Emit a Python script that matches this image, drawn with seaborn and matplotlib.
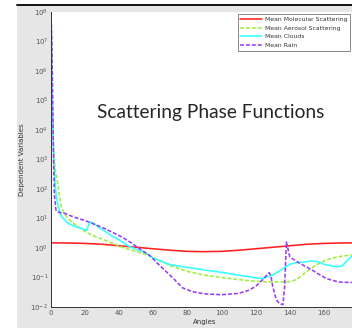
import numpy as np
import pandas as pd
import matplotlib
matplotlib.use('Agg')
import matplotlib.pyplot as plt
from matplotlib.patches import Rectangle
from matplotlib.lines import Line2D
import seaborn as sns

# --- data (angles in degrees, values log-scaled) ---
mol_angles = [0, 10, 20, 30, 40, 50, 60, 70, 80, 90, 100, 110, 120, 130, 140, 150, 160, 170, 180]
mol_values = [1.50, 1.48, 1.43, 1.34, 1.19, 1.06, 0.94, 0.84, 0.77, 0.75,
              0.77, 0.84, 0.94, 1.06, 1.19, 1.34, 1.43, 1.48, 1.50]

aer_angles = [0, 0.5, 1, 1.5, 2, 2.5, 3, 4, 5, 6, 8, 10, 13, 16, 20, 25, 30, 36, 42, 48,
              55, 62, 70, 80, 90, 100, 110, 116, 120, 126, 132, 140, 144, 150, 155, 160,
              165, 170, 175, 180]
aer_values = [2e8, 3e5, 1e4, 2.5e3, 1e3, 440, 300, 150, 60, 25, 14, 10, 7, 5.3, 3.6, 2.6,
              2.0, 1.45, 1.05, 0.82, 0.62, 0.42, 0.25, 0.16, 0.12, 0.1, 0.085, 0.078, 0.075,
              0.072, 0.071, 0.072, 0.085, 0.16, 0.26, 0.36, 0.46, 0.52, 0.57, 0.6]

cld_angles = [0, 0.5, 1, 1.5, 2, 2.5, 3, 4, 5, 6, 8, 10, 12, 15, 18, 20, 21, 22, 23, 25,
              28, 32, 36, 40, 45, 50, 55, 60, 65, 70, 80, 90, 100, 110, 116, 120, 124, 128,
              132, 136, 140, 144, 148, 152, 156, 160, 164, 168, 171, 174, 177, 180]
cld_values = [1e8, 1e6, 2e4, 2e3, 400, 150, 60, 30, 18, 12, 9, 7, 6, 5.2, 4.6, 4.1, 4.0,
              6.0, 7.7, 6.8, 5.0, 3.6, 2.5, 1.9, 1.2, 0.9, 0.72, 0.45, 0.35, 0.27, 0.22,
              0.18, 0.15, 0.12, 0.107, 0.097, 0.092, 0.11, 0.14, 0.2, 0.28, 0.32, 0.33,
              0.36, 0.35, 0.28, 0.25, 0.23, 0.25, 0.4, 0.55, 0.6]

rain_angles = [0, 0.5, 1, 1.5, 2, 3, 5, 8, 12, 16, 20, 25, 30, 36, 42, 47, 53, 58, 62, 67,
               72, 77, 83, 90, 100, 110, 116, 120, 124, 127, 128, 129, 130, 132, 134, 136,
               137, 138, 139, 140, 144, 148, 153, 157, 161, 165, 169, 175, 180]
rain_values = [1e8, 1e7, 1e5, 1e3, 60, 18, 16, 15, 12, 10, 8.5, 6.5, 5.0, 3.4, 2.3, 1.5,
               0.85, 0.55, 0.32, 0.17, 0.09, 0.045, 0.033, 0.028, 0.026, 0.029, 0.037, 0.05,
               0.083, 0.13, 0.145, 0.11, 0.05, 0.018, 0.013, 0.012, 0.05, 1.6, 0.9, 0.5,
               0.35, 0.26, 0.18, 0.13, 0.095, 0.08, 0.07, 0.068, 0.068]

labels = ["Mean Molecular Scattering", "Mean Aerosol Scattering", "Mean Clouds", "Mean Rain"]
colors = ["#ff2020", "#9cf03c", "#33ffff", "#9b3cf5"]
x_ticks = [0, 20, 40, 60, 80, 100, 120, 140, 160]

frames = []
for name, a, v in zip(labels,
                      [mol_angles, aer_angles, cld_angles, rain_angles],
                      [mol_values, aer_values, cld_values, rain_values]):
    frames.append(pd.DataFrame({"angle": a, "value": v, "series": name}))
df = pd.concat(frames, ignore_index=True)

sns.set_theme(style="white")
plt.rcParams['font.family'] = ['DejaVu Sans']

fig = plt.figure(figsize=(3.52, 3.28), dpi=100)
fig.patch.set_facecolor("white")
# grey figure area of the screenshot, with the window line on top
fig.add_artist(Rectangle((17 / 352, 0), 1 - 17 / 352, 1 - 5 / 328,
                         transform=fig.transFigure, facecolor="#e6e6e6",
                         edgecolor="none", zorder=0))
fig.add_artist(Line2D([17 / 352, 1], [1 - 5 / 328, 1 - 5 / 328],
                      transform=fig.transFigure, color="black", lw=1.3, zorder=1))

ax = fig.add_axes([51 / 352, 21 / 328, 307 / 352, 295 / 328])
ax.set_facecolor("white")

sns.lineplot(data=df, x="angle", y="value", hue="series", style="series",
             palette=dict(zip(labels, colors)),
             dashes={labels[0]: "", labels[1]: (2.5, 1.2), labels[2]: "", labels[3]: (2.5, 1.2)},
             estimator=None, sort=False, lw=1.15, ax=ax)

ax.set_yscale("log")
ax.set_ylim(1e-2, 1e8)
ax.set_xlim(0, 180)
ax.set_xticks(x_ticks)
ax.set_yticks([10.0 ** k for k in range(-2, 9)])
ax.tick_params(axis="both", which="both", direction="in", labelsize=5,
               colors="#555555", pad=2)
ax.tick_params(axis="both", which="major", length=3, width=0.6)
ax.tick_params(axis="y", which="minor", length=1.5, width=0.5, left=True)
for side in ["top", "right"]:
    ax.spines[side].set_visible(False)
for side in ["left", "bottom"]:
    ax.spines[side].set_color("#333333")
    ax.spines[side].set_linewidth(0.7)

ax.set_xlabel("Angles", fontsize=5, color="#333333", labelpad=2)
ax.set_ylabel("Dependent Variables", fontsize=5, color="#333333", labelpad=4)

leg = ax.legend(loc="upper left", bbox_to_anchor=(0.608, 0.993), borderaxespad=0,
                fontsize=4.4, frameon=True, fancybox=False, handlelength=3.5,
                handletextpad=0.5, labelspacing=0.55, borderpad=0.45)
leg.get_frame().set_edgecolor("#555555")
leg.get_frame().set_linewidth(0.6)
for t in leg.get_texts():
    t.set_color("#333333")

fig.text(211 / 352, 1 - 112 / 328, "Scattering Phase Functions", family="Lato",
         fontsize=13.8, color="#262626", ha="center", va="center")

fig.savefig("out.png", dpi=100)
